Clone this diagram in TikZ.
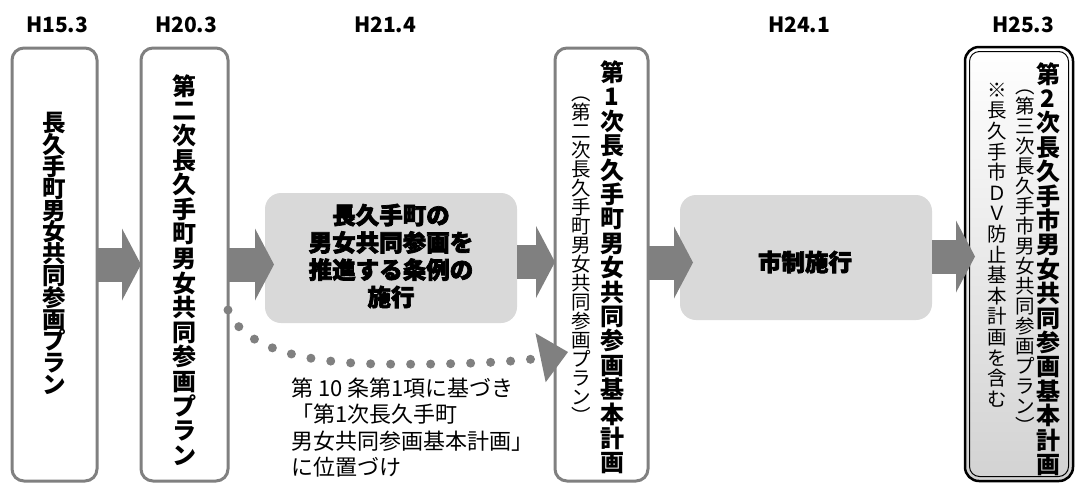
\documentclass[tikz,border=0pt]{standalone}
\usepackage{fontspec}
\setmainfont{Noto Sans CJK JP}
\newfontfamily\heavyfont{Noto Sans CJK JP}[BoldFeatures={FakeBold=3}]
\usetikzlibrary{arrows.meta,calc}
\definecolor{bord}{HTML}{808080}
\definecolor{boxgray}{HTML}{D9D9D9}
\begin{document}
\begin{tikzpicture}[x=1pt,y=-1pt,
  plan/.style={draw=bord, line width=3pt, rounded corners=12pt, fill=white, inner sep=0pt, outer sep=0pt},
  event/.style={fill=boxgray, rounded corners=16pt, inner sep=0pt, outer sep=0pt},
  blk/.style={draw=bord, line width=34pt, -{Triangle[length=19pt,width=72pt,line width=0pt]}},
  vt/.style={align=center, inner sep=0pt},
  head/.style={font=\bfseries\fontsize{21}{21}\selectfont, inner sep=0pt},
  heavy/.style={align=center, inner sep=0pt, font=\heavyfont\bfseries\fontsize{23.5}{27.3}\selectfont},
  dots/.style={draw=bord, line width=9pt, line cap=round, dash pattern=on 0pt off 20pt,
    -{Triangle[length=28pt,width=50pt,line width=0pt]}}
]
\lineskiplimit=-100pt
\useasboundingbox (0,0) rectangle (1076,483);
% headings
\node[head] (h1) at (57,25) {H15.3};
\node[head] (h2) at (186,25) {H20.3};
\node[head] (h3) at (385,25) {H21.4};
\node[head] (h4) at (799,25) {H24.1};
\node[head] (h5) at (1023,25) {H25.3};
% plan boxes
\node[plan, minimum width=85pt, minimum height=433pt] (A) at (54.5,264.5) {};
\node[plan, minimum width=87pt, minimum height=433pt] (B) at (184.5,264.5) {};
\node[plan, minimum width=93pt, minimum height=433pt] (C) at (601.5,264.5) {};
\node[minimum width=108pt, minimum height=434pt, rounded corners=14pt, draw=black,
  line width=2.5pt, top color=white, bottom color=gray!35, inner sep=0pt, outer sep=0pt] (E) at (1019,264) {};
\draw[black, line width=1pt, rounded corners=10pt] ($(E.south west)+(4.5,-4.5)$) rectangle ($(E.north east)+(-4.5,4.5)$);
% event boxes
\node[event, minimum width=252pt, minimum height=130pt] (G) at (391,258) {};
\node[event, minimum width=252pt, minimum height=125pt] (S) at (806,257.5) {};
% texts
\node[vt, font=\bfseries\fontsize{23.5}{21.8}\selectfont] (tA) at (54.5,253.5)
  {長\\久\\手\\町\\男\\女\\共\\同\\参\\画\\プ\\ラ\\ン};
\node[vt, font=\bfseries\fontsize{24}{24.6}\selectfont] (tB) at (184.5,270)
  {第\\二\\次\\長\\久\\手\\町\\男\\女\\共\\同\\参\\画\\プ\\ラ\\ン};
\node[vt, font=\bfseries\fontsize{24}{24.4}\selectfont] (tC) at (612,267.5)
  {第\\1\\次\\長\\久\\手\\町\\男\\女\\共\\同\\参\\画\\基\\本\\計\\画};
\node[vt, font=\fontsize{19.5}{19}\selectfont] (pC) at (581,260)
  {︵\\第\\二\\次\\長\\久\\手\\町\\男\\女\\共\\同\\参\\画\\プ\\ラ\\ン\\︶};
\node[vt, font=\bfseries\fontsize{24}{24.4}\selectfont] (tE) at (1048,269)
  {第\\2\\次\\長\\久\\手\\市\\男\\女\\共\\同\\参\\画\\基\\本\\計\\画};
\node[vt, font=\fontsize{19.5}{20}\selectfont] (pE) at (1025,261.5)
  {︵\\第\\三\\次\\長\\久\\手\\市\\男\\女\\共\\同\\参\\画\\プ\\ラ\\ン\\︶};
\node[vt, font=\fontsize{19.5}{20.6}\selectfont] (nE) at (997,245)
  {※\\長\\久\\手\\市\\Ｄ\\Ｖ\\防\\止\\基\\本\\計\\画\\を\\含\\む};
\node[heavy] (tG) at (391,256) {長久手町の\\男女共同参画を\\推進する条例の\\施行};
\node[heavy] (tS) at (805,262) {市制施行};
% block arrows
\draw[blk] (A.east) -- (B.west);
\draw[blk, shorten >=-9pt] (B.east) -- (B.east -| G.west);
\draw[blk] ($(G.east)+(0,4)$) -- ($(G.east -| C.west)+(0,4)$);
\draw[blk, shorten >=-13pt] ($(C.east)+(0,-2)$) -- ($(C.east -| S.west)+(0,-2)$);
\draw[blk, shorten >=-10pt] ($(S.east)+(0,-1)$) -- ($(S.east -| E.west)+(0,-1)$);
% dotted connector
\coordinate (ds) at (B.east |- 0,310);
\coordinate (de) at (568,352);
\draw[dots] (ds) .. controls (243,347) and (300,363) .. (380,364) .. controls (450,365) and (520,362) .. (de);
\node[anchor=west, align=left, inner sep=0pt, font=\fontsize{22}{26.3}\selectfont] (note) at (291,427.5)
  {第 10 条第1項に基づき\\「第1次長久手町\\男女共同参画基本計画」\\に位置づけ};
\end{tikzpicture}
\end{document}
